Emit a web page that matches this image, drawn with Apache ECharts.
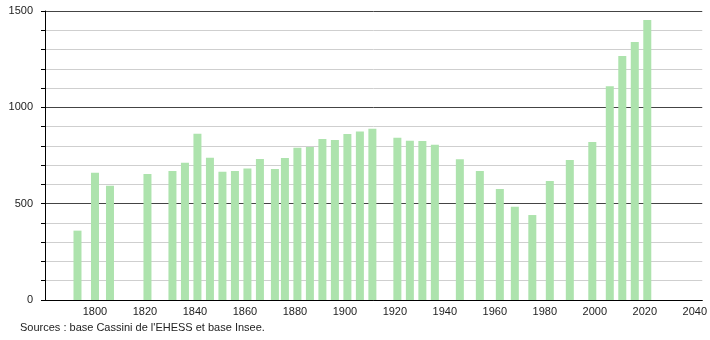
<!DOCTYPE html>
<html>
<head>
<meta charset="utf-8">
<script src="https://cdn.jsdelivr.net/npm/echarts@6/dist/echarts.min.js"></script>
<style>
html,body{margin:0;padding:0;background:#fff;}
#chart{width:710px;height:340px;}
</style>
</head>
<body>
<div id="chart"></div>
<script>
var years = [1793,1800,1806,1821,1831,1836,1841,1846,1851,1856,1861,1866,1872,1876,1881,1886,1891,1896,1901,1906,1911,1921,1926,1931,1936,1946,1954,1962,1968,1975,1982,1990,1999,2006,2011,2016,2021];
var population = [360,660,593,654,669,712,863,738,666,669,683,732,680,737,790,794,835,830,861,875,889,842,827,825,806,731,669,576,484,441,618,726,820,1110,1266,1339,1453];
var xTickLabels = [1800,1820,1840,1860,1880,1900,1920,1940,1960,1980,2000,2020,2040];
var yTickLabels = [0,500,1000,1500];
var sourceText = "Sources : base Cassini de l'EHESS et base Insee.";

var chart = echarts.init(document.getElementById('chart'), null, {renderer:'canvas'});
var font = 'Liberation Sans, Arial, sans-serif';
chart.setOption({
  animation:false,
  backgroundColor:'#fff',
  grid:{left:45, right:7, top:11, bottom:40, containLabel:false},
  graphic:[{type:'text', left:20, top:322, style:{text:sourceText, font:'11px '+font, fill:'#222'}}],
  xAxis:{
    type:'value', min:1780, max:2043, interval:20,
    axisLine:{show:true, onZero:false, lineStyle:{color:'#000', width:1}},
    axisTick:{show:false},
    splitLine:{show:false},
    axisLabel:{
      color:'#222', fontSize:11, fontFamily:font, margin:6,
      formatter:function(v){return xTickLabels.indexOf(v)>=0 ? String(v) : '';}
    }
  },
  yAxis:{
    type:'value', min:0, max:1500, interval:100,
    axisLine:{show:true, lineStyle:{color:'#000', width:1}},
    axisTick:{show:true, length:4, lineStyle:{color:'#000'}},
    splitLine:{show:true, lineStyle:{color:['#444','#cfcfcf','#cfcfcf','#cfcfcf','#cfcfcf'], width:1}},
    axisLabel:{
      color:'#222', fontSize:11, fontFamily:font, margin:12,
      formatter:function(v){return yTickLabels.indexOf(v)>=0 ? String(v) : '';}
    }
  },
  series:[{
    type:'bar',
    data: years.map(function(y,i){return [y, population[i]];}),
    barWidth:8,
    itemStyle:{color:'#ade3ad'},
    z:3
  }]
});
</script>
</body>
</html>
